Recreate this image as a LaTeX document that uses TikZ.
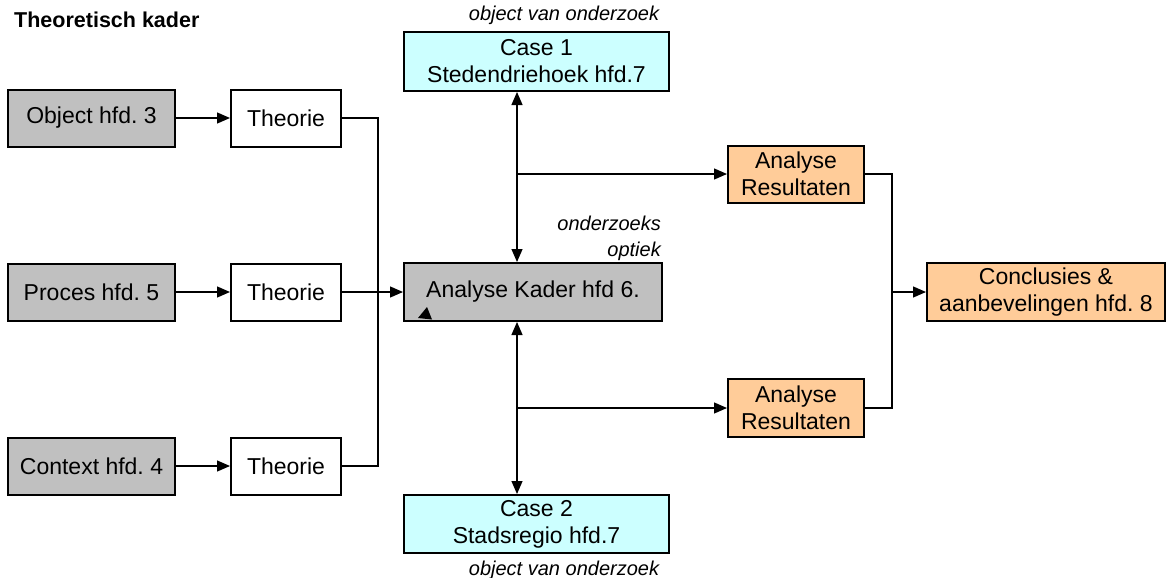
\documentclass[tikz,border=0pt]{standalone}
\usepackage{fontspec}
\setmainfont{Liberation Sans}
\usepackage{xcolor}
\usetikzlibrary{arrows.meta,calc}
\frenchspacing

\definecolor{grijs}{HTML}{C0C0C0}
\definecolor{lichtblauw}{HTML}{CCFFFF}
\definecolor{oranje}{HTML}{FFCC99}

\begin{document}
\begin{tikzpicture}[x=1pt,y=-1pt,
	>={Triangle[length=13pt,width=11pt]},
	box/.style={draw=black,line width=2pt,minimum height=57pt,inner sep=0pt,
		align=center,font=\fontsize{23}{27}\selectfont},
	greybox/.style={box,fill=grijs,minimum width=167pt},
	theorybox/.style={box,fill=white,minimum width=110pt},
	casebox/.style={box,fill=lichtblauw,minimum width=265pt,minimum height=59pt},
	resultbox/.style={box,fill=oranje,minimum width=136pt},
	conn/.style={line width=1.3pt},
	note/.style={font=\fontsize{20}{26}\selectfont\itshape,inner sep=0pt}]
	\newcommand{\rowA}{118}
	\newcommand{\rowB}{292}
	\newcommand{\rowC}{466}
	\newcommand{\spineX}{517}

	\useasboundingbox (0,0) rectangle (1170,578);

	\coordinate (bus) at (378,\rowB);
	\coordinate (spine) at (\spineX,\rowB);
	\coordinate (rbus) at (892,\rowB);

	% theoretisch kader
	\node[anchor=west,inner sep=0pt,font=\fontsize{21.5}{26}\selectfont\bfseries] (title) at (14,20) {Theoretisch kader};
	\node[greybox] (object) at (91.5,\rowA) {Object hfd. 3};
	\node[greybox] (proces) at (91.5,\rowB) {Proces hfd. 5};
	\node[greybox] (context) at (91.5,\rowC) {Context hfd. 4};
	\node[theorybox] (theory_a) at (286,\rowA) {Theorie};
	\node[theorybox] (theory_b) at (286,\rowB) {Theorie};
	\node[theorybox] (theory_c) at (286,\rowC) {Theorie};

	% analyse kader and cases
	\node[box,fill=grijs,minimum width=258pt,minimum height=58pt] (kader) at (533,\rowB) {Analyse Kader hfd 6.};
	\node[casebox] (case_a) at (536.5,61.5) {Case 1\\Stedendriehoek hfd.7};
	\node[casebox,minimum height=58pt] (case_b) at (536.5,524) {Case 2\\Stadsregio hfd.7};
	\node[note] (obj_a) at (564,15) {object van onderzoek};
	\node[note] (obj_b) at (564,570) {object van onderzoek};
	\node[note,anchor=east,align=right] (optiek) at (661,238) {onderzoeks\\optiek};

	% results
	\node[resultbox] (result_a) at (796,174) {Analyse\\Resultaten};
	\node[resultbox,minimum height=58pt] (result_b) at (796,408) {Analyse\\Resultaten};
	\node[box,fill=oranje,minimum width=238pt,minimum height=58pt] (concl) at (1046,\rowB) {Conclusies \&\\aanbevelingen hfd. 8};

	% left arrows
	\draw[conn,->] (object) -- (theory_a);
	\draw[conn,->] (proces) -- (theory_b);
	\draw[conn,->] (context) -- (theory_c);
	\draw[conn] (theory_a.east) -| (bus);
	\draw[conn] (theory_c.east) -| (bus);
	\draw[conn,->] (theory_b) -- (kader);
	\fill (418,318) -- (432,319.5) -- (427,307) -- cycle;

	% case arrows
	\draw[conn,<->] (kader.north -| spine) -- (case_a.south -| spine);
	\draw[conn,<->] (kader.south -| spine) -- (case_b.north -| spine);
	\draw[conn,->] (spine |- result_a.west) -- (result_a.west);
	\draw[conn,->] (spine |- result_b.west) -- (result_b.west);

	% conclusions
	\draw[conn] (result_a.east) -| (rbus);
	\draw[conn] (result_b.east) -| (rbus);
	\draw[conn,->] (rbus) -- (concl);
\end{tikzpicture}
\end{document}
